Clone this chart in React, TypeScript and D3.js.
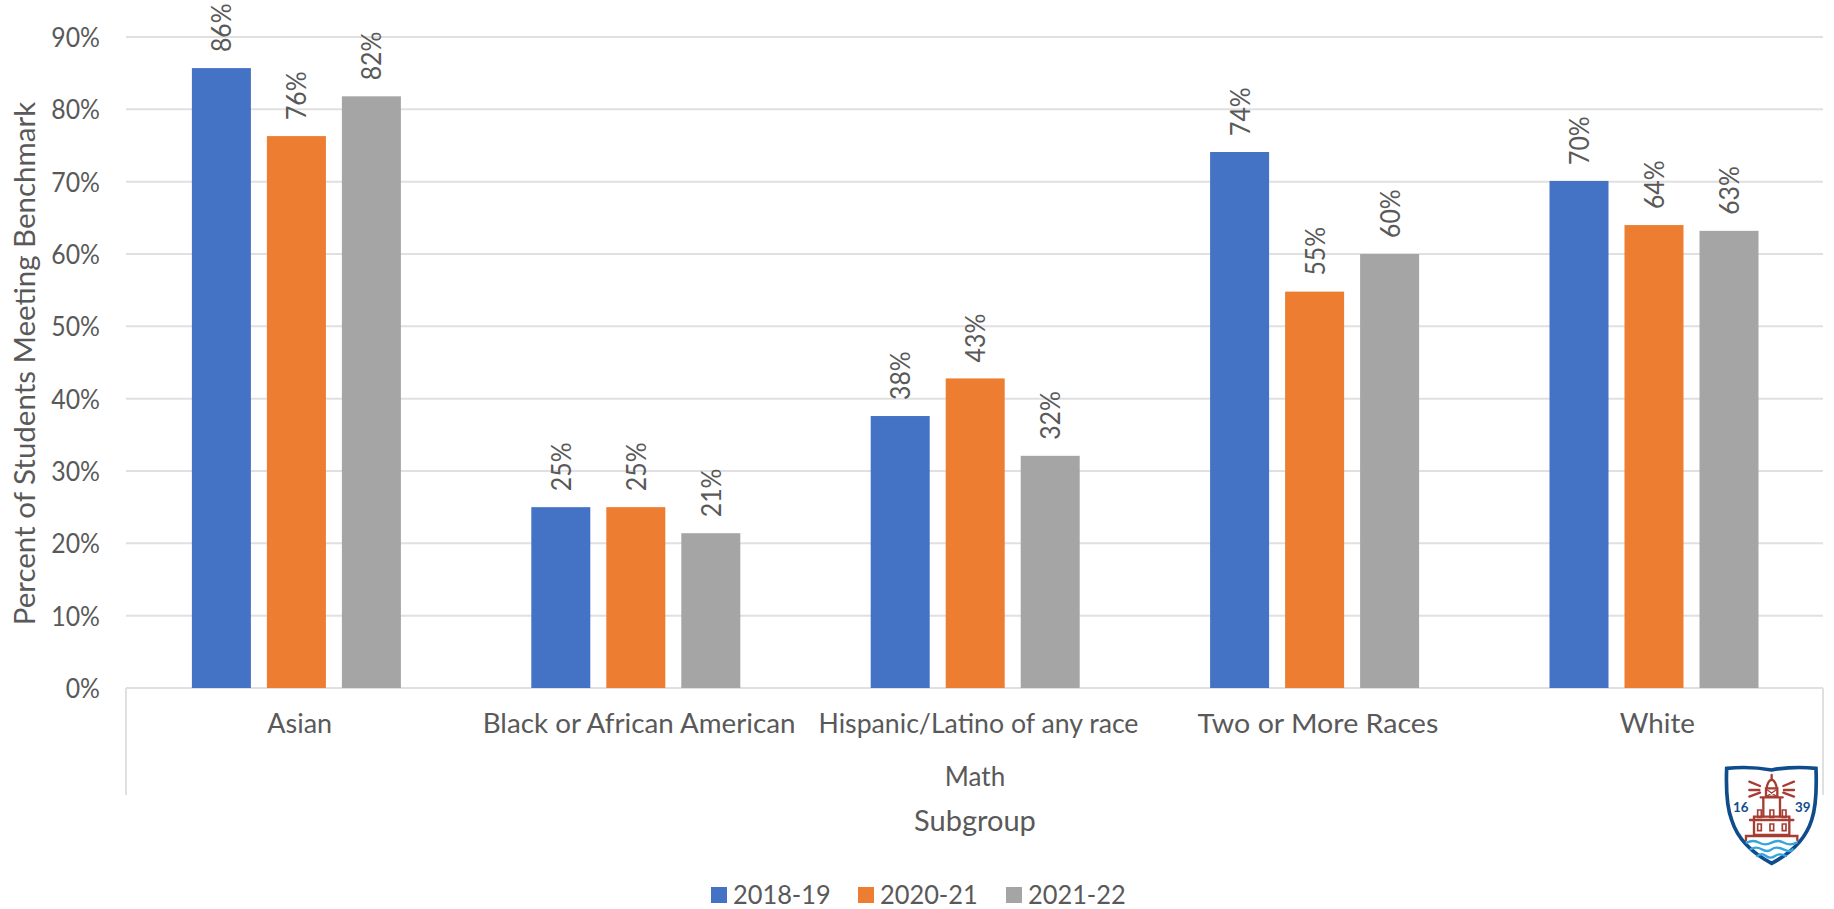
import React from "react";
import * as d3 from "d3";

const categories = ["Asian", "Black or African American", "Hispanic/Latino of any race", "Two or More Races", "White"];
const seriesNames = ["2018-19", "2020-21", "2021-22"];
const values2018 = [85.7, 25.0, 37.6, 74.1, 70.1];
const values2020 = [76.3, 25.0, 42.8, 54.8, 64.0];
const values2021 = [81.8, 21.4, 32.1, 60.0, 63.2];
const seriesValues = [values2018, values2020, values2021];
const seriesColors = ["#4472c4", "#ed7d31", "#a5a5a5"];
const yTicks = [0, 10, 20, 30, 40, 50, 60, 70, 80, 90];

const FONT = "Lato, 'Open Sans', sans-serif";
const TEXT = "#595959";
const GRID = "#e0e0e0";
const labelStretch = [0.98, 1.01, 0.97, 1.04, 1.01];

function Logo() {
  const blue = "#0f4c8c", red = "#a63d33", water = "#35a5de";
  return (
    <g transform="translate(1680,740) scale(0.3333)" fill="none" strokeLinecap="round">
      <path d="M140 85 Q210 78 275 90 Q340 78 408 85 Q412 190 395 240 Q370 320 275 370 Q180 320 155 240 Q136 190 140 85Z" fill="#fff" stroke={blue} strokeWidth="11" />
      <g stroke={red} strokeWidth="7">
        <path d="M275 105V120M260 145Q262 125 275 118Q288 125 290 145M258 145H292V170H258ZM242 172H308M250 172V230M300 172V230" />
        <path d="M262 150L288 168M288 150L262 168" strokeWidth="4" />
        <path d="M210 240H340M222 230H328V285H222ZM198 300V288H352V300" />
        <path d="M208 125L240 138M208 150H238M208 170L240 158M342 125L310 138M342 150H312M342 170L310 158" />
        <path d="M233 210H244V232H233ZM270 210H281V232H270ZM307 210H318V232H307ZM233 252H244V272H233ZM270 252H281V272H270ZM307 252H318V272H307Z" strokeWidth="5" />
      </g>
      <g stroke={water} strokeWidth="7">
        <path d="M200 308Q220 298 238 308T275 308T312 308T350 308" />
        <path d="M212 328Q228 318 245 328T275 328T310 328T338 328" />
        <path d="M232 348Q245 338 258 348T285 348T318 348" />
      </g>
      <text x="182" y="217" fill={blue} fontSize="40" fontWeight="700" fontFamily={FONT} textAnchor="middle">16</text>
      <text x="368" y="217" fill={blue} fontSize="40" fontWeight="700" fontFamily={FONT} textAnchor="middle">39</text>
    </g>
  );
}

export default function App() {
  const left = 126, right = 1823, top = 37, bottom = 688, axisBottom = 795;
  const y = d3.scaleLinear().domain([0, 90]).range([bottom, top]);
  const x0 = d3.scaleBand<string>().domain(categories).range([left, right]);
  const x1 = d3.scaleBand<string>().domain(seriesNames).range([0, 209]).paddingInner(16 / 75).paddingOuter(0);
  const groupOffset = (x0.bandwidth() - 209) / 2 + 0.7;
  const legendX = d3.scaleOrdinal<string, number>().domain(seriesNames).range([711, 858, 1006]);

  return (
    <svg width={1834} height={909} style={{ position: "absolute", left: 0, top: 0, background: "#fff" }} fontFamily={FONT}>
      {yTicks.map((t) => (
        <g key={t}>
          <line x1={left} x2={right} y1={y(t)} y2={y(t)} stroke={GRID} strokeWidth={2} />
          <text transform={`translate(100,${y(t) + 10}) scale(0.92,1)`} textAnchor="end" fontSize={27} fill={TEXT}>{t}%</text>
        </g>
      ))}
      <line x1={left} x2={left} y1={bottom} y2={axisBottom} stroke={GRID} strokeWidth={2} />
      <line x1={right} x2={right} y1={bottom} y2={axisBottom} stroke={GRID} strokeWidth={2} />
      {categories.map((c, i) => (
        <g key={c}>
          {seriesNames.map((s, j) => {
            const v = seriesValues[j][i];
            const bx = x0(c)! + groupOffset + x1(s)!;
            const cx = bx + x1.bandwidth() / 2;
            return (
              <g key={s}>
                <rect x={bx} y={y(v)} width={x1.bandwidth()} height={bottom - y(v)} fill={seriesColors[j]} />
                <text transform={`translate(${cx + 10},${y(v) - 16}) rotate(-90) scale(0.92,1)`} fontSize={27} fill={TEXT}>{Math.round(v)}%</text>
              </g>
            );
          })}
          <text transform={`translate(${x0(c)! + x0.bandwidth() / 2 + 4},733) scale(${labelStretch[i]},1)`} textAnchor="middle" fontSize={27.5} fill={TEXT}>{c}</text>
        </g>
      ))}
      <text x={975} y={786} textAnchor="middle" fontSize={26} fill={TEXT}>Math</text>
      <text x={975} y={831} textAnchor="middle" fontSize={29} fill={TEXT}>Subgroup</text>
      <text transform={`translate(35,${(top + bottom) / 2 + 1}) rotate(-90)`} textAnchor="middle" fontSize={29.5} fill={TEXT}>Percent of Students Meeting Benchmark</text>
      {seriesNames.map((s, j) => (
        <g key={s}>
          <rect x={legendX(s)} y={887} width={16} height={16} fill={seriesColors[j]} />
          <text transform={`translate(${legendX(s) + 22},904) scale(0.94,1)`} fontSize={27} fill={TEXT}>{s}</text>
        </g>
      ))}
      <Logo />
    </svg>
  );
}
